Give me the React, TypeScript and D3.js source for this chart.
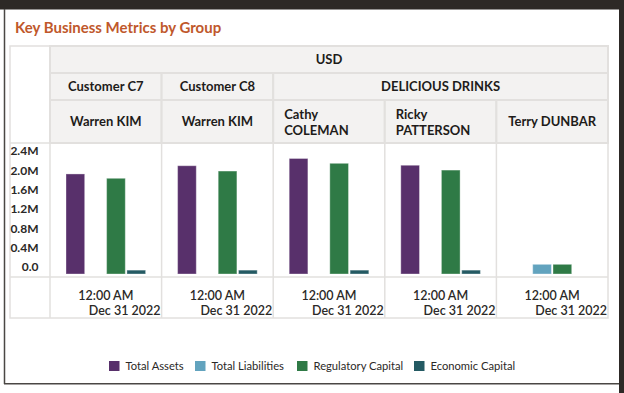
import React from "react";
import * as d3 from "d3";

const title = "Key Business Metrics by Group";
const currency = "USD";
const customers = ["Customer C7", "Customer C8", "DELICIOUS DRINKS"];
const customerSpans = [1, 1, 3];
const managers = [["Warren KIM"], ["Warren KIM"], ["Cathy", "COLEMAN"], ["Ricky", "PATTERSON"], ["Terry DUNBAR"]];
const timeLabel = "12:00 AM";
const dateLabel = "Dec 31 2022";
const series = ["Total Assets", "Total Liabilities", "Regulatory Capital", "Economic Capital"];
const colors = ["#58306b", "#62a3be", "#2f7a46", "#245a63"];
const totalAssets = [2.07, 2.24, 2.39, 2.25, null];
const totalLiabilities = [null, null, null, null, 0.2];
const regulatoryCapital = [1.98, 2.13, 2.29, 2.15, 0.2];
const economicCapital = [0.08, 0.08, 0.08, 0.08, null];
const yTicks = [0, 0.4, 0.8, 1.2, 1.6, 2.0, 2.4];

const FONT = "Lato, 'Noto Sans', sans-serif";

export default function App() {
  const W = 624, H = 393;
  const tableL = 10, tableR = 608, tableT = 46, tableB = 318;
  const axisL = 50;
  const r1 = 73, r2 = 100, r3 = 143, plotB = 277;

  const values = [totalAssets, totalLiabilities, regulatoryCapital, economicCapital];
  const cols = managers.map((_, i) => i);
  const x0 = d3.scaleBand<number>().domain(cols).range([axisL, tableR]).padding(0);
  const bw0 = x0.bandwidth();
  const y = d3.scaleLinear().domain([0, 2.4]).range([274, 158]);
  const x1 = d3.scaleBand<string>().domain(series).range([-39.8, 39.8]).paddingInner(0.08).paddingOuter(0);

  const headerFill = "#f3f2f1";
  const gridStroke = "#e2e0de";

  let acc = 0;
  const custCells = customers.map((c, i) => {
    const start = acc;
    acc += customerSpans[i];
    return { name: c, x: x0(start)!, w: bw0 * customerSpans[i] };
  });

  const legendX = [109, 195, 297, 414];

  return (
    <svg width={W} height={H} style={{ position: "absolute", left: 0, top: 0 }} fontFamily={FONT}>
      <rect x={0} y={0} width={W} height={H} fill="#ffffff" />
      <rect x={0} y={0} width={W} height={9.5} fill="#2d2926" />
      <rect x={619} y={0} width={5} height={H} fill="#2d2926" />
      <line x1={4.5} y1={9} x2={4.5} y2={384} stroke="#4a4744" strokeWidth={1.5} />
      <line x1={4} y1={383.8} x2={619} y2={383.8} stroke="#4a4744" strokeWidth={1.5} />

      <text x={15} y={33} fontSize={15} fontWeight={700} fill="#c0582b">{title}</text>

      <rect x={tableL} y={tableT} width={tableR - tableL} height={tableB - tableT} fill="#fff" stroke={gridStroke} strokeWidth={1.5} />
      <rect x={axisL} y={tableT} width={tableR - axisL} height={r1 - tableT} fill={headerFill} stroke={gridStroke} strokeWidth={2} />
      <text x={(axisL + tableR) / 2} y={(tableT + r1) / 2} dy="0.36em" textAnchor="middle" fontSize={13} fontWeight={700} fill="#1e1c1a">{currency}</text>
      {custCells.map((c, i) => (
        <g key={"c" + i}>
          <rect x={c.x} y={r1} width={c.w} height={r2 - r1} fill={headerFill} stroke={gridStroke} strokeWidth={2} />
          <text x={c.x + c.w / 2} y={(r1 + r2) / 2} dy="0.36em" textAnchor="middle" fontSize={13} fontWeight={700} fill="#1e1c1a">{c.name}</text>
        </g>
      ))}
      {managers.map((m, i) => {
        const x = x0(i)!;
        return (
          <g key={"m" + i}>
            <rect x={x} y={r2} width={bw0} height={r3 - r2} fill={headerFill} stroke={gridStroke} strokeWidth={2} />
            {m.length === 1 ? (
              <text x={x + bw0 / 2} y={(r2 + r3) / 2} dy="0.36em" textAnchor="middle" fontSize={13} fontWeight={700} fill="#1e1c1a">{m[0]}</text>
            ) : (
              m.map((line, k) => (
                <text key={k} x={x + 11} y={114 + k * 16} dy="0.36em" fontSize={13} fontWeight={700} fill="#1e1c1a">{line}</text>
              ))
            )}
          </g>
        );
      })}

      <line x1={axisL} y1={tableT} x2={axisL} y2={tableB} stroke={gridStroke} strokeWidth={1.5} />
      <line x1={tableL} y1={r3} x2={tableR} y2={r3} stroke={gridStroke} strokeWidth={1.5} />
      <line x1={tableL} y1={plotB} x2={tableR} y2={plotB} stroke={gridStroke} strokeWidth={1.5} />
      {cols.slice(1).map((i) => (
        <line key={"v" + i} x1={x0(i)!} y1={r3} x2={x0(i)!} y2={tableB} stroke={gridStroke} strokeWidth={1.5} />
      ))}

      {yTicks.map((t) => (
        <text key={"t" + t} x={38.5} y={y(t) - 7} dy="0.36em" textAnchor="end" fontSize={12} fontWeight={700} fill="#2b2927">
          {t === 0 ? "0.0" : d3.format(".1f")(t) + "M"}
        </text>
      ))}

      {cols.map((i) => {
        const cx = x0(i)! + bw0 / 2;
        return (
          <g key={"b" + i}>
            {series.map((s, k) => {
              const v = values[k][i];
              if (v == null) return null;
              return (
                <rect key={s} x={cx + x1(s)!} y={y(v)} width={x1.bandwidth()} height={y(0) - y(v)}
                  fill={colors[k]} stroke="#ffffff" strokeOpacity={0.35} strokeWidth={1} />
              );
            })}
          </g>
        );
      })}

      {cols.map((i) => {
        const x = x0(i)!;
        return (
          <g key={"x" + i}>
            <text x={x + bw0 / 2} y={295} dy="0.36em" textAnchor="middle" fontSize={12.5} fontWeight={600} fill="#2b2927">{timeLabel}</text>
            <text x={x + bw0 - 1} y={310} dy="0.36em" textAnchor="end" fontSize={12.5} fontWeight={600} fill="#2b2927">{dateLabel}</text>
          </g>
        );
      })}

      {series.map((s, k) => (
        <g key={"l" + s}>
          <rect x={legendX[k]} y={361} width={10.5} height={10} fill={colors[k]} />
          <text x={legendX[k] + 16.5} y={366} dy="0.36em" fontSize={11.2} fill="#2b2927">{s}</text>
        </g>
      ))}
    </svg>
  );
}
